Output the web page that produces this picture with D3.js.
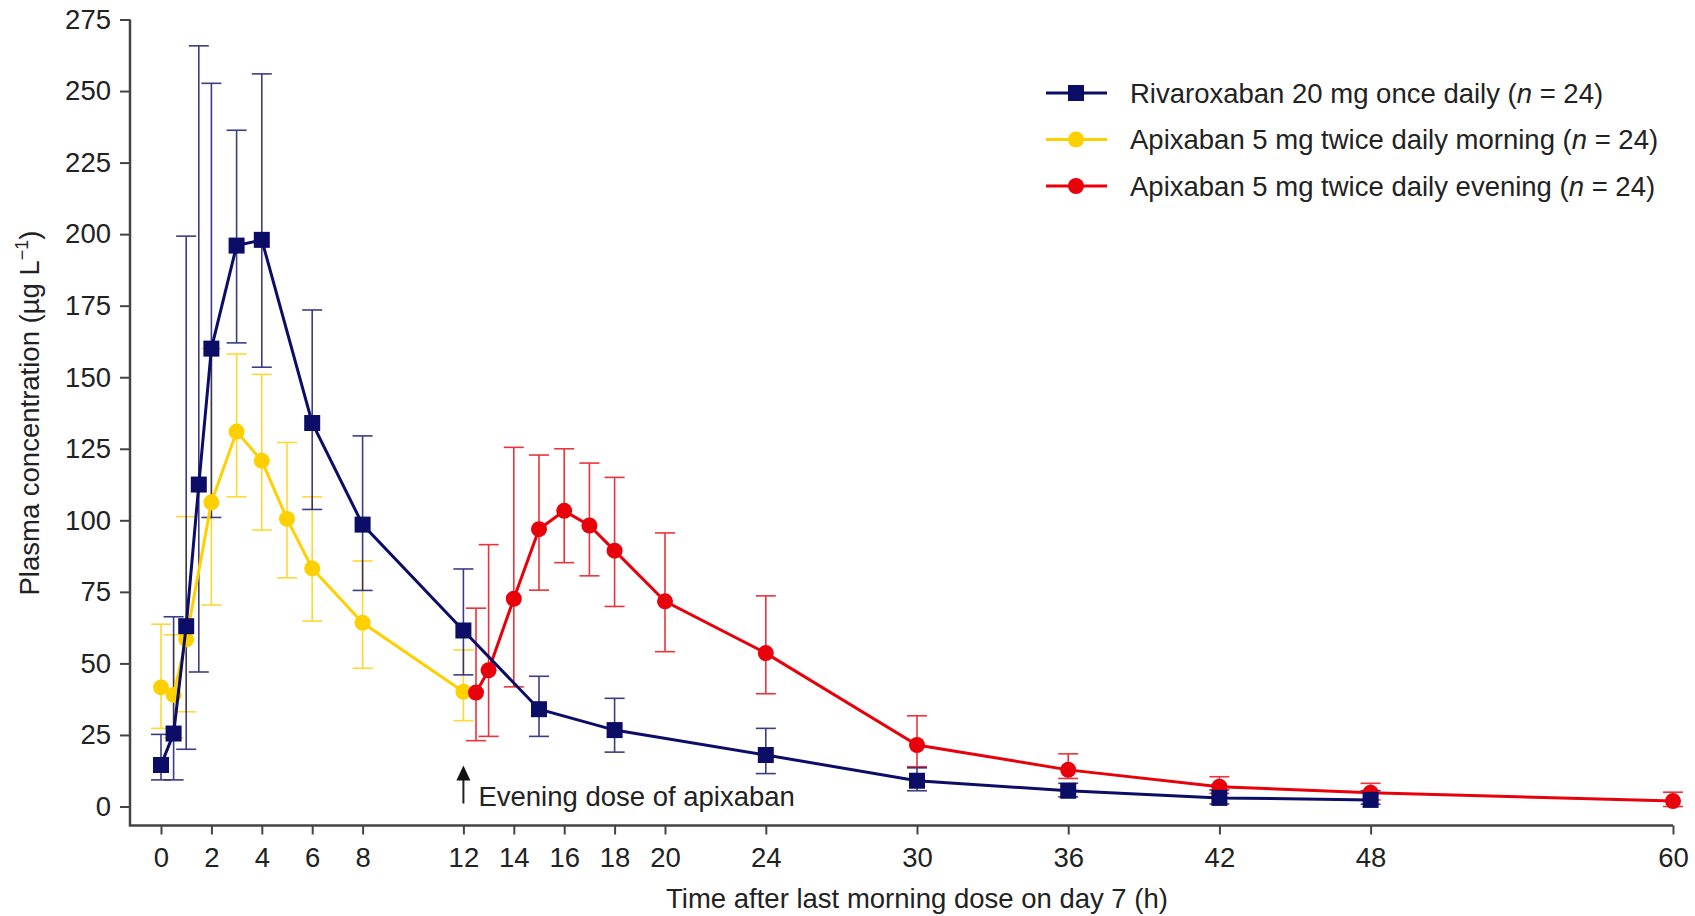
<!DOCTYPE html>
<html>
<head>
<meta charset="utf-8">
<script src="https://cdn.jsdelivr.net/npm/d3@7"></script>
<style>
  body { margin: 0; background: #fff; }
  text { font-family: "Liberation Sans", Arial, Helvetica, sans-serif; fill: #222; }
</style>
</head>
<body>
<div id="grafico"></div>
<script>
// Tempos de coleta (h) e concentrações médias com barras de erro (µg/L)
const tempoRiva = [0, 0.5, 1, 1.5, 2, 3, 4, 6, 8, 12, 15, 18, 24, 30, 36, 42, 48];
const mediaRiva = [14.5, 25.5, 63, 112.5, 160, 196, 198, 134, 98.5, 61.5, 34, 26.7, 18, 9, 5.5, 3, 2.3];
const infRiva = [9.3, 9.3, 20, 47, 101, 162, 153.5, 103.8, 75.5, 46, 24.5, 19, 11.5, 5.5, 3.4, 0.9, 0.8];
const supRiva = [25.2, 66.3, 199.3, 265.8, 252.7, 236.3, 256, 173.5, 129.5, 83, 45.5, 37.8, 27.3, 13.5, 8.1, 5.8, 5.5];

const tempoManha = [0, 0.5, 1, 2, 3, 4, 5, 6, 8, 12];
const mediaManha = [41.6, 39, 58.4, 106.3, 131, 120.8, 100.5, 83.2, 64.2, 40.1];
const infManha = [27.3, 24, 33.1, 70.4, 108.2, 96.6, 79.9, 64.8, 48.3, 30];
const supManha = [63.7, 60, 101.3, 160, 158.1, 151, 127.2, 108.2, 85.8, 54.7];

const tempoNoite = [12.5, 13, 14, 15, 16, 17, 18, 20, 24, 30, 36, 42, 48, 60];
const mediaNoite = [39.8, 47.6, 72.6, 96.9, 103.3, 98.2, 89.4, 71.7, 53.6, 21.5, 12.8, 6.9, 4.8, 1.9];
const infNoite = [23, 24.5, 41.8, 75.6, 85.2, 80.6, 69.9, 54.1, 39.4, 13.9, 9.8, 4.6, 2.3, 0];
const supNoite = [69.3, 91.5, 125.5, 122.8, 125, 120, 115, 95.6, 73.6, 31.7, 18.4, 10.4, 8.1, 5];

const ticksX = [0, 2, 4, 6, 8, 12, 14, 16, 18, 20, 24, 30, 36, 42, 48, 60];
const ticksY = [0, 25, 50, 75, 100, 125, 150, 175, 200, 225, 250, 275];

const nomes = ['Rivaroxaban 20 mg once daily', 'Apixaban 5 mg twice daily morning', 'Apixaban 5 mg twice daily evening'];

function montar(t, m, lo, hi) {
    return t.map((d, i) => ({ t: d, v: m[i], lo: lo[i], hi: hi[i] }));
}

const series = [
    { nome: nomes[1], cor: '#ffd000', forma: 'circulo', dados: montar(tempoManha, mediaManha, infManha, supManha) },
    { nome: nomes[2], cor: '#e8000b', forma: 'circulo', dados: montar(tempoNoite, mediaNoite, infNoite, supNoite) },
    { nome: nomes[0], cor: '#0c0d66', forma: 'quadrado', dados: montar(tempoRiva, mediaRiva, infRiva, supRiva) }
];

const largura = 1695, altura = 916;
const svg = d3.select('#grafico').append('svg')
    .attr('width', largura).attr('height', altura);

const escalaX = d3.scaleLinear().domain([0, 60]).range([161, 1673]);
const escalaY = d3.scaleLinear().domain([0, 275]).range([806.5, 19.5]);

const eixoEsq = 130;
const eixoBaixo = escalaY(0) + 19;
const corEixo = '#444';
const fonte = 27.5;

// Eixo Y
const gy = svg.append('g').attr('transform', `translate(${eixoEsq},0)`)
    .call(d3.axisLeft(escalaY).tickValues(ticksY).tickSize(10).tickPadding(9));
gy.select('.domain').remove();
gy.selectAll('line').attr('stroke', corEixo).attr('stroke-width', 2);
gy.selectAll('text').style('font-size', fonte + 'px').attr('fill', '#222');

// Eixo X
const gx = svg.append('g').attr('transform', `translate(0,${eixoBaixo})`)
    .call(d3.axisBottom(escalaX).tickValues(ticksX).tickSize(9).tickPadding(13));
gx.select('.domain').remove();
gx.selectAll('line').attr('stroke', corEixo).attr('stroke-width', 2);
gx.selectAll('text').style('font-size', fonte + 'px').attr('fill', '#222');

// Moldura em L
svg.append('path')
    .attr('d', `M${eixoEsq},${escalaY(275)}V${eixoBaixo}H${escalaX(60)}`)
    .attr('fill', 'none').attr('stroke', corEixo).attr('stroke-width', 2.5);

// Títulos dos eixos
svg.append('text')
    .attr('x', escalaX(30)).attr('y', 908)
    .attr('text-anchor', 'middle')
    .style('font-size', fonte + 'px')
    .text('Time after last morning dose on day 7 (h)');

const ty = svg.append('text')
    .attr('transform', `translate(39,${(escalaY(0) + escalaY(275)) / 2}) rotate(-90)`)
    .attr('text-anchor', 'middle')
    .style('font-size', fonte + 'px');
ty.append('tspan').text('Plasma concentration (µg L');
ty.append('tspan').attr('dy', -11).style('font-size', '18px').text('−1');
ty.append('tspan').attr('dy', 11).text(')');

// Barras de erro
const meiaTampa = 10;
series.forEach(s => {
    const g = svg.append('g').attr('stroke', s.cor).attr('stroke-width', 1.6).attr('opacity', 0.8);
    s.dados.forEach(d => {
        const cx = escalaX(d.t);
        g.append('line').attr('x1', cx).attr('x2', cx).attr('y1', escalaY(d.lo)).attr('y2', escalaY(d.hi));
        g.append('line').attr('x1', cx - meiaTampa).attr('x2', cx + meiaTampa).attr('y1', escalaY(d.lo)).attr('y2', escalaY(d.lo));
        g.append('line').attr('x1', cx - meiaTampa).attr('x2', cx + meiaTampa).attr('y1', escalaY(d.hi)).attr('y2', escalaY(d.hi));
    });
});

// Linhas e marcadores
const linha = d3.line().x(d => escalaX(d.t)).y(d => escalaY(d.v));

function marcador(g, s, cx, cy) {
    if (s.forma === 'quadrado') {
        g.append('rect').attr('x', cx - 8).attr('y', cy - 8).attr('width', 16).attr('height', 16).attr('fill', s.cor);
    } else {
        g.append('circle').attr('cx', cx).attr('cy', cy).attr('r', 8).attr('fill', s.cor);
    }
}

series.forEach(s => {
    svg.append('path').datum(s.dados)
        .attr('fill', 'none').attr('stroke', s.cor).attr('stroke-width', 3)
        .attr('d', linha);
    const g = svg.append('g');
    s.dados.forEach(d => marcador(g, s, escalaX(d.t), escalaY(d.v)));
});

// Anotação da dose noturna
const xSeta = escalaX(12);
svg.append('line')
    .attr('x1', xSeta).attr('x2', xSeta)
    .attr('y1', escalaY(0) - 3).attr('y2', escalaY(0) - 28)
    .attr('stroke', '#222').attr('stroke-width', 2);
svg.append('path')
    .attr('d', `M${xSeta},${escalaY(0) - 41}L${xSeta - 7},${escalaY(0) - 26}L${xSeta + 7},${escalaY(0) - 26}Z`)
    .attr('fill', '#111');
svg.append('text')
    .attr('x', xSeta + 15).attr('y', escalaY(0) - 1)
    .style('font-size', fonte + 'px')
    .text('Evening dose of apixaban');

// Legenda
const ordemLegenda = [series[2], series[0], series[1]];
const leg = svg.append('g').attr('transform', 'translate(1046,93)');
ordemLegenda.forEach((s, i) => {
    const g = leg.append('g').attr('transform', `translate(0,${i * 46.5})`);
    g.append('line').attr('x1', 0).attr('x2', 61).attr('y1', 0).attr('y2', 0)
        .attr('stroke', s.cor).attr('stroke-width', 3);
    marcador(g, s, 30, 0);
    const t = g.append('text').attr('x', 84).attr('y', 0).attr('dy', '0.35em')
        .style('font-size', fonte + 'px');
    t.append('tspan').text(s.nome + ' (');
    t.append('tspan').style('font-style', 'italic').text('n');
    t.append('tspan').text(' = 24)');
});
</script>
</body>
</html>
